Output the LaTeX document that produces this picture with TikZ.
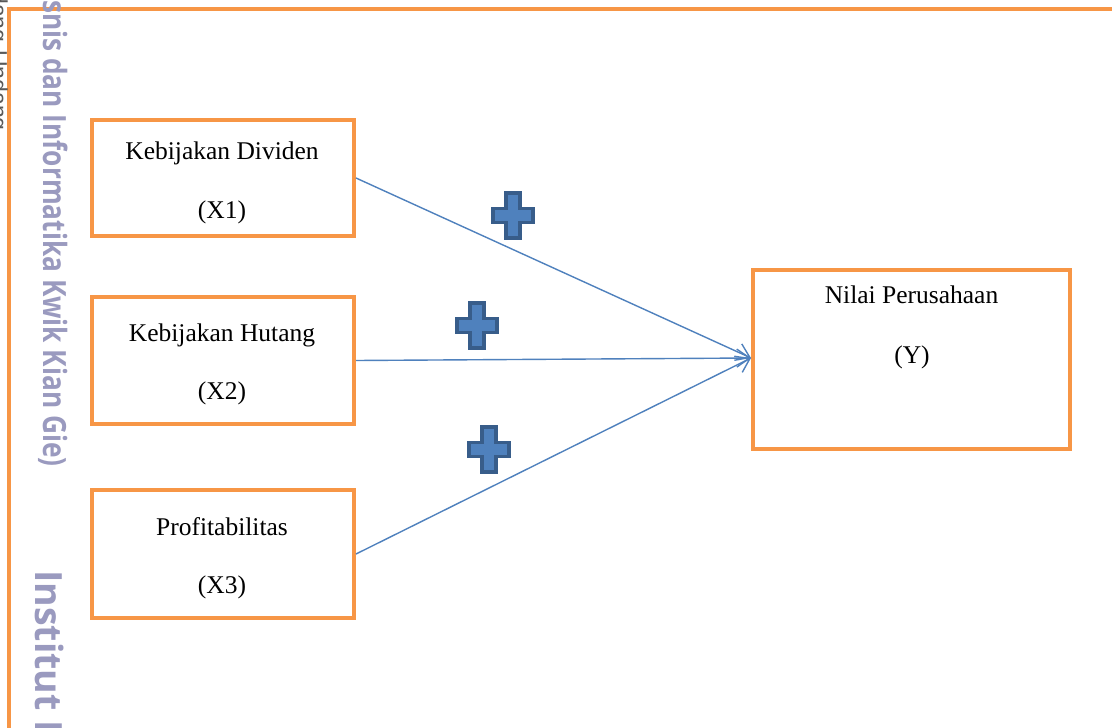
\documentclass[tikz,border=0pt]{standalone}
\usepackage{fontspec}
\setmainfont{Liberation Serif}
\newfontfamily\wmfont{Open Sans}
\newfontfamily\smallwm{Liberation Sans}
\usetikzlibrary{arrows.meta}
\definecolor{frameorange}{HTML}{F79646}
\definecolor{lineblue}{HTML}{4F81BD}
\definecolor{plusborder}{HTML}{385D8A}
\definecolor{wmgray}{HTML}{9A9ABF}
\tikzset{
  varbox/.style={draw=frameorange, line width=4pt, minimum width=262pt, minimum height=116pt, inner sep=0pt},
  lbl/.style={anchor=base, inner sep=0pt, font=\fontsize{25.5}{26}\selectfont},
  conn/.style={draw=lineblue, line width=1.4pt, -{Straight Barb[length=13pt,width=18pt,line width=1.4pt]}},
  plussign/.style={fill=lineblue, draw=plusborder, line width=3.2pt, line join=miter},
  wm/.style={text=wmgray, inner sep=0pt, rotate=-90}
}
\newcommand{\plusat}[2]{%
  \path[plussign] (#1-7,#2-22.5) -- (#1+7,#2-22.5) -- (#1+7,#2-7) -- (#1+20,#2-7) -- (#1+20,#2+7) -- (#1+7,#2+7) -- (#1+7,#2+22.5) -- (#1-7,#2+22.5) -- (#1-7,#2+7) -- (#1-20,#2+7) -- (#1-20,#2-7) -- (#1-7,#2-7) -- cycle;}
\begin{document}
\begin{tikzpicture}[x=1pt,y=-1pt]
\useasboundingbox (0,0) rectangle (1112,728);
\clip (0,0) rectangle (1112,728);
\fill[white] (0,0) rectangle (1112,728);
% outer frame
\draw[frameorange, line width=4pt] (9,760) -- (9,9) -- (1140,9);
% watermarks
\node[wm, anchor=base east, font=\wmfont\bfseries] (wm1) at (43,467) {\scalebox{0.82}[1]{\fontsize{32}{32}\selectfont snis dan Informatika Kwik Kian Gie)}};
\node[wm, anchor=base west, font=\wmfont\bfseries] (wm2) at (35,570) {\fontsize{37.5}{38}\selectfont Institut Bisnis};
\node[wm, anchor=base east, text=black!65, font=\smallwm] (wm3) at (-9,131) {\fontsize{23}{23}\selectfont Hak Cipta Dilindungi Undang-Undang};
% boxes
\node[varbox] (x1) at (223,178) {};
\node[varbox, minimum height=127pt] (x2) at (223,360.5) {};
\node[varbox, minimum height=128pt] (x3) at (223,554) {};
\node[varbox, minimum width=317pt, minimum height=179pt] (y) at (911.5,359.5) {};
% labels
\node[lbl] (t1a) at (222,159.3) {Kebijakan Dividen};
\node[lbl] (t1b) at (222,218) {(X1)};
\node[lbl] (t2a) at (222,341) {Kebijakan Hutang};
\node[lbl] (t2b) at (222,399.5) {(X2)};
\node[lbl] (t3a) at (222,535) {Profitabilitas};
\node[lbl] (t3b) at (222,593) {(X3)};
\node[lbl] (tya) at (911.5,303) {Nilai Perusahaan};
\node[lbl] (tyb) at (912,363) {(Y)};
% connectors
\coordinate (yin) at ([yshift=1.5pt]y.west);
\draw[conn] (x1.east) -- (yin);
\draw[conn] (x2.east) -- (yin);
\draw[conn] (x3.east) -- (yin);
% plus signs
\plusat{513}{215.5}
\plusat{477}{325.5}
\plusat{489}{449.5}
\end{tikzpicture}
\end{document}
